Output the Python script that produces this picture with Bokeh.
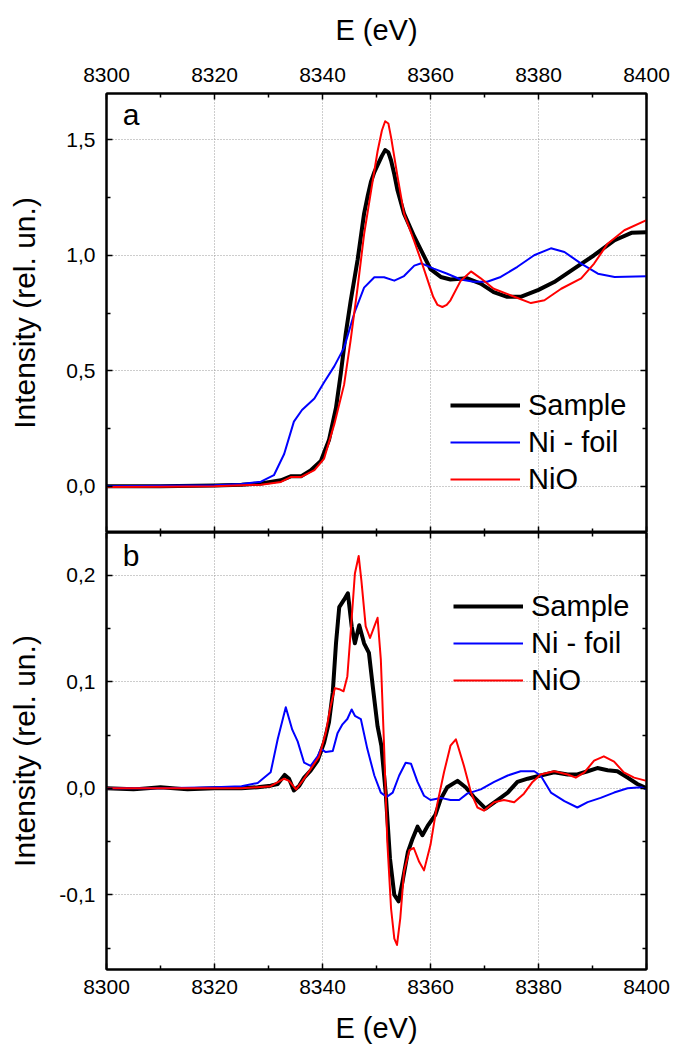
from bokeh.plotting import figure
from bokeh.models import (LinearAxis, FixedTicker, CustomJSTickFormatter, Legend,
                          LegendItem, Label, Range1d)
from bokeh.layouts import column
from bokeh.embed import file_html
from bokeh.resources import INLINE

FONT = "Liberation Sans"

# ---------------- panel a : XANES spectra ----------------
a_sample_E = [8300, 8310, 8320, 8325, 8328.6, 8332.3, 8334.1, 8336, 8337.8, 8339.7,
              8341.2, 8342.5, 8343.4, 8344.3, 8345.2, 8346.5, 8347.7, 8348.4, 8349,
              8349.6, 8350.2, 8351, 8351.6, 8352.2, 8352.7, 8353.3, 8353.9, 8355.1,
              8357, 8358.5, 8360, 8361.9, 8363.7, 8366.8, 8369.3, 8371.7, 8374.2,
              8376.7, 8380, 8382.9, 8386.6, 8390.3, 8394.1, 8397.2, 8400]
a_sample_I = [0.0, 0.0, 0.003, 0.007, 0.012, 0.026, 0.043, 0.043, 0.069, 0.11,
              0.20, 0.34, 0.49, 0.66, 0.80, 0.98, 1.18, 1.26, 1.32,
              1.36, 1.39, 1.43, 1.455, 1.445, 1.41, 1.35, 1.28, 1.18,
              1.08, 1.01, 0.94, 0.906, 0.895, 0.90, 0.877, 0.84, 0.82,
              0.82, 0.85, 0.884, 0.942, 1.0, 1.065, 1.097, 1.10]

a_foil_E = [8300, 8310, 8320, 8325, 8328.6, 8331, 8332.9, 8334.7, 8336.2, 8338.5,
            8340.3, 8342.2, 8344, 8345.9, 8347.7, 8349.6, 8351.4, 8353.3, 8355.1,
            8357, 8358.3, 8360.6, 8363.1, 8365.6, 8368, 8370.5, 8373, 8376.1,
            8379.2, 8382.3, 8384.8, 8387.9, 8391, 8394.1, 8400]
a_foil_I = [0.0, 0.002, 0.005, 0.01, 0.02, 0.048, 0.14, 0.28, 0.33, 0.38,
            0.45, 0.52, 0.60, 0.75, 0.86, 0.905, 0.905, 0.89, 0.91,
            0.955, 0.965, 0.942, 0.92, 0.895, 0.885, 0.885, 0.906, 0.95,
            1.0, 1.03, 1.014, 0.964, 0.92, 0.906, 0.909]

a_nio_E = [8300, 8310, 8320, 8325, 8328.6, 8332.3, 8334.1, 8336, 8338.5, 8340.3,
           8342.2, 8344, 8345.2, 8346.5, 8347.7, 8349, 8350.2, 8351, 8351.6, 8352.2,
           8352.7, 8353.9, 8355.1, 8357, 8358.5, 8359.5, 8360.5, 8361.3, 8362.2,
           8363, 8363.7, 8365.6, 8367.5, 8369.3, 8371.7, 8374.8, 8378.6, 8381.1,
           8384.2, 8387.9, 8390.3, 8392.8, 8395.9, 8400]
a_nio_I = [-0.003, -0.002, 0.0, 0.004, 0.007, 0.019, 0.04, 0.04, 0.07, 0.12,
           0.27, 0.44, 0.63, 0.86, 1.09, 1.28, 1.45, 1.54, 1.58, 1.57,
           1.51, 1.34, 1.18, 1.06, 0.96, 0.89, 0.82, 0.785, 0.776,
           0.785, 0.805, 0.89, 0.93, 0.90, 0.855, 0.827, 0.793, 0.805,
           0.855, 0.90, 0.964, 1.05, 1.108, 1.152]

# ---------------- panel b : derivatives ----------------
b_sample_E = [8300, 8305, 8310, 8315, 8320, 8325, 8328, 8330.4, 8331.7, 8333, 8333.8,
              8334.7, 8335.7, 8336.6, 8337.8, 8339.1, 8340.3, 8341.2, 8341.9, 8342.5,
              8343.1, 8344, 8344.7, 8345.4, 8346, 8346.8, 8347.7, 8348.6, 8349.3,
              8350.2, 8350.9, 8351.7, 8352.5, 8353.3, 8354.1, 8354.8, 8355.8, 8356.7,
              8357.6, 8358.5, 8359.5, 8360.9, 8361.9, 8363.1, 8365, 8366.5, 8368,
              8370.2, 8372.4, 8374.3, 8376.1, 8378, 8380.4, 8382.9, 8385.4, 8387.2,
              8389.1, 8390.9, 8392.8, 8394.6, 8396.5, 8398.3, 8400]
b_sample_I = [0.0, -0.001, 0.001, -0.001, 0.0, 0.0, 0.001, 0.0025, 0.004, 0.0125, 0.009,
              -0.002, 0.0025, 0.010, 0.0165, 0.026, 0.043, 0.062, 0.09, 0.136,
              0.170, 0.177, 0.183, 0.152, 0.136, 0.153, 0.136, 0.127, 0.096,
              0.058, 0.04, -0.004, -0.066, -0.10, -0.106, -0.088, -0.060, -0.047,
              -0.036, -0.044, -0.035, -0.025, -0.010, 0.001, 0.007, 0.001, -0.008,
              -0.019, -0.011, -0.004, 0.006, 0.009, 0.012, 0.015, 0.013, 0.013,
              0.016, 0.019, 0.017, 0.016, 0.010, 0.004, 0.0]

b_foil_E = [8300, 8310, 8320, 8325, 8328, 8330.4, 8331.7, 8333.2, 8334.4, 8335.4,
            8336.6, 8337.8, 8339.1, 8339.7, 8340.6, 8341.9, 8342.8, 8343.7, 8344.6,
            8345.4, 8346, 8347.1, 8348.3, 8349.6, 8350.8, 8351.9, 8353, 8354.2,
            8355.4, 8356.4, 8357.6, 8358.8, 8360, 8361.9, 8363.7, 8365.3, 8366.8,
            8369.3, 8371.8, 8374.3, 8376.7, 8379.2, 8380.4, 8382.3, 8384.8, 8387.2,
            8389.1, 8391.5, 8394, 8396.5, 8399, 8400]
b_foil_I = [0.0, 0.0, 0.001, 0.002, 0.005, 0.015, 0.046, 0.076, 0.055, 0.044,
            0.024, 0.021, 0.030, 0.037, 0.034, 0.035, 0.052, 0.060, 0.065,
            0.074, 0.068, 0.065, 0.037, 0.012, -0.004, -0.008, -0.004, 0.012,
            0.024, 0.023, 0.006, -0.007, -0.011, -0.009, -0.011, -0.011, -0.005,
            -0.001, 0.006, 0.012, 0.016, 0.016, 0.012, -0.004, -0.012, -0.018,
            -0.013, -0.009, -0.004, 0.0, 0.001, -0.001]

b_nio_E = [8300, 8310, 8320, 8325, 8328, 8330.4, 8332.9, 8333.8, 8335.1, 8336.3,
           8337.8, 8339.4, 8340.6, 8341.5, 8342.3, 8343.1, 8343.9, 8344.6, 8345.3,
           8346, 8346.7, 8347.2, 8348, 8348.8, 8349.6, 8350.2, 8350.8, 8351.4,
           8352, 8352.7, 8353.3, 8353.8, 8354.4, 8355.1, 8356.1, 8356.9, 8357.9,
           8358.8, 8360, 8361.2, 8362.5, 8363.7, 8364.7, 8366.2, 8367.5, 8368.7,
           8369.9, 8371.8, 8373.6, 8375.5, 8377.3, 8378.9, 8380.4, 8382.9, 8385.4,
           8386.9, 8388.5, 8390.3, 8392.1, 8394, 8395.8, 8397.7, 8400]
b_nio_I = [0.0, 0.0, 0.0, 0.0, 0.001, 0.002, 0.009, 0.007, -0.001, 0.007,
           0.018, 0.030, 0.052, 0.077, 0.094, 0.093, 0.091, 0.105, 0.152,
           0.2015, 0.218, 0.195, 0.152, 0.141, 0.152, 0.16, 0.121, 0.040,
           -0.05, -0.113, -0.141, -0.147, -0.122, -0.078, -0.058, -0.056, -0.069,
           -0.077, -0.053, -0.016, 0.015, 0.040, 0.046, 0.021, -0.004, -0.018,
           -0.021, -0.013, -0.011, -0.013, -0.005, 0.006, 0.013, 0.016, 0.013,
           0.010, 0.015, 0.026, 0.030, 0.025, 0.015, 0.010, 0.007]

x_ticks = [8300, 8320, 8340, 8360, 8380, 8400]
x_minor = [8310, 8330, 8350, 8370, 8390]
a_yticks = [0.0, 0.5, 1.0, 1.5]
a_yminor = [0.25, 0.75, 1.25]
b_yticks = [-0.1, 0.0, 0.1, 0.2]
b_yminor = [-0.15, -0.05, 0.05, 0.15]
series_labels = ["Sample", "Ni - foil", "NiO"]
colors = ["black", "#0000ff", "#ff0000"]
widths = [4, 2, 2]

W = 674
LEFT, RIGHT = 106, 28
H_TOP, H_BOT = 532, 514

comma_fmt = CustomJSTickFormatter(code="return tick.toFixed(1).replace('.', ',');")


def style_axis(ax, ticks, minor, show_labels, fmt=None):
    ax.ticker = FixedTicker(ticks=ticks, minor_ticks=minor)
    ax.axis_line_color = "black"
    ax.axis_line_width = 2
    ax.major_tick_line_color = "black"
    ax.major_tick_line_width = 1.5
    ax.minor_tick_line_color = "black"
    ax.minor_tick_line_width = 1.5
    ax.major_tick_in = 6
    ax.major_tick_out = 0
    ax.minor_tick_in = 4
    ax.minor_tick_out = 0
    ax.major_label_text_font = FONT
    if fmt is not None:
        ax.formatter = fmt
    if show_labels:
        ax.major_label_text_color = "black"
        ax.major_label_text_font_size = "21px"
    else:
        # tick marks only: no tick labels are drawn on this frame side
        ax.major_label_text_color = None
        ax.major_label_text_font_size = "0px"
        ax.major_label_standoff = 0


def style_label(ax, text, size, standoff):
    ax.axis_label = text
    ax.axis_label_text_font = FONT
    ax.axis_label_text_font_size = size
    ax.axis_label_text_font_style = "normal"
    ax.axis_label_text_color = "black"
    ax.axis_label_standoff = standoff


def make_panel(height, ylo, yhi, xloc, border_top, border_bottom):
    p = figure(width=W, height=height, x_range=Range1d(8300, 8400),
               y_range=Range1d(ylo, yhi), x_axis_location=xloc,
               toolbar_location=None, output_backend="svg",
               min_border_left=LEFT, min_border_right=RIGHT,
               min_border_top=border_top, min_border_bottom=border_bottom)
    p.outline_line_color = "black"
    p.outline_line_width = 2
    p.background_fill_color = "white"
    p.border_fill_color = "white"
    for g in (p.xgrid[0], p.ygrid[0]):
        g.grid_line_color = "#9a9a9a"
        g.grid_line_dash = "1 2"
        g.grid_line_width = 1
    return p


def add_lines(p, Es, Is):
    rs = []
    for E, I, c, w in zip(Es, Is, colors, widths):
        rs.append(p.line(E, I, line_color=c, line_width=w, line_join="round"))
    return rs


def add_legend(p, rs, loc):
    items = [LegendItem(label=l, renderers=[r]) for l, r in zip(series_labels, rs)]
    lg = Legend(items=items, location=loc, margin=0, padding=0,
                spacing=3, label_height=34, glyph_height=34, glyph_width=70,
                label_standoff=8, label_text_font=FONT, label_text_font_size="29px",
                label_text_color="black", border_line_color=None,
                background_fill_alpha=0)
    p.add_layout(lg)


# ---- top panel (a) ----
pa = make_panel(H_TOP, -0.2, 1.7, "above", 93, 0)
style_axis(pa.xaxis[0], x_ticks, x_minor, True)
style_label(pa.xaxis[0], "E (eV)", "29px", 19)
pa.xaxis[0].major_label_standoff = 12
style_axis(pa.yaxis[0], a_yticks, a_yminor, True, comma_fmt)
style_label(pa.yaxis[0], "Intensity (rel. un.)", "30px", 22)
pa.yaxis[0].major_label_standoff = 11
ra = LinearAxis()
style_axis(ra, a_yticks, a_yminor, False)
pa.add_layout(ra, "right")
ba = LinearAxis()
style_axis(ba, x_ticks, x_minor, False)
pa.add_layout(ba, "below")
pa.xgrid[0].ticker = FixedTicker(ticks=x_ticks)
pa.ygrid[0].ticker = FixedTicker(ticks=a_yticks)
rs_a = add_lines(pa, [a_sample_E, a_foil_E, a_nio_E], [a_sample_I, a_foil_I, a_nio_I])
add_legend(pa, rs_a, (344, 36))
pa.add_layout(Label(x=8303, y=1.61, text="a", text_font=FONT, text_font_size="30px",
                    text_baseline="alphabetic", text_color="black"))

# ---- bottom panel (b) ----
pb = make_panel(H_BOT, -0.17, 0.24, "below", 0, 75)
style_axis(pb.xaxis[0], x_ticks, x_minor, True)
style_label(pb.xaxis[0], "E (eV)", "29px", 15)
pb.xaxis[0].major_label_standoff = 10
style_axis(pb.yaxis[0], b_yticks, b_yminor, True, comma_fmt)
style_label(pb.yaxis[0], "Intensity (rel. un.)", "30px", 15)
pb.yaxis[0].major_label_standoff = 11
rb = LinearAxis()
style_axis(rb, b_yticks, b_yminor, False)
pb.add_layout(rb, "right")
tb = LinearAxis()
style_axis(tb, x_ticks, x_minor, False)
pb.add_layout(tb, "above")
pb.xgrid[0].ticker = FixedTicker(ticks=x_ticks)
pb.ygrid[0].ticker = FixedTicker(ticks=b_yticks)
rs_b = add_lines(pb, [b_sample_E, b_foil_E, b_nio_E], [b_sample_I, b_foil_I, b_nio_I])
add_legend(pb, rs_b, (347, 272))
pb.add_layout(Label(x=8303, y=0.218, text="b", text_font=FONT, text_font_size="30px",
                    text_baseline="alphabetic", text_color="black"))

layout = column(pa, pb, spacing=0)
open("out.html", "w").write(file_html(layout, INLINE))
